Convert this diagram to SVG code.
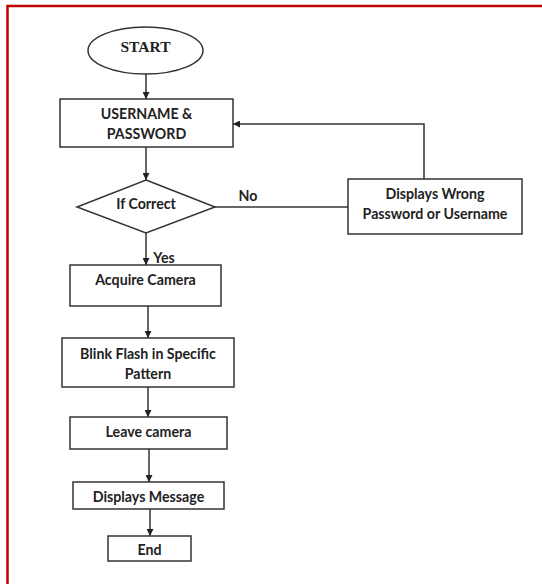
<svg xmlns="http://www.w3.org/2000/svg" width="542" height="584" viewBox="0 0 542 584">
<defs>
<marker id="ah" viewBox="0 0 10 10" refX="10" refY="5" markerWidth="7" markerHeight="7" markerUnits="userSpaceOnUse" orient="auto">
<path d="M0,0 L10,5 L0,10 z" fill="#222"/>
</marker>
<style>
.box{fill:#fff;stroke:#333;stroke-width:1.5}
.t{font-family:Lato,"Liberation Sans",sans-serif;font-weight:bold;font-size:14.2px;fill:#222;text-anchor:middle;dominant-baseline:central}
.c{fill:none;stroke:#333;stroke-width:1.5;marker-end:url(#ah)}
.l{fill:none;stroke:#333;stroke-width:1.5}
</style>
</defs>
<rect width="542" height="584" fill="#fff"/>
<rect x="7.5" y="6" width="700" height="700" fill="none" stroke="#c00000" stroke-width="2.5"/>
<g id="connectors">
<path class="c" d="M146,74 V99"/>
<path class="c" d="M146,147 V180"/>
<path class="l" d="M215,207 H348"/>
<path class="c" d="M424,179 V124 H233"/>
<path class="c" d="M146,233 V265"/>
<path class="c" d="M148,306 V338"/>
<path class="c" d="M148,387 V417"/>
<path class="c" d="M149,449 V482"/>
<path class="c" d="M150,509 V536"/>
<text class="t" x="248" y="195">No</text>
<text class="t" x="164" y="257">Yes</text>
</g>
<g id="start">
<ellipse class="box" cx="145.5" cy="50.5" rx="57.5" ry="23.5"/>
<text x="145.5" y="46" font-family="'Liberation Serif',serif" font-weight="bold" font-size="15.5" fill="#222" text-anchor="middle" dominant-baseline="central">START</text>
</g>
<g id="login">
<rect class="box" x="60" y="99" width="173" height="48"/>
<text class="t" x="146.5" y="113">USERNAME &amp;</text>
<text class="t" x="146.5" y="133">PASSWORD</text>
</g>
<g id="check">
<polygon class="box" points="146,180 215,207 146,233 77,207"/>
<text class="t" x="146" y="203">If Correct</text>
</g>
<g id="wrong">
<rect class="box" x="348" y="179" width="174" height="55"/>
<text class="t" x="435" y="193">Displays Wrong</text>
<text class="t" x="435" y="213">Password or Username</text>
</g>
<g id="acquire">
<rect class="box" x="70" y="265" width="151" height="41"/>
<text class="t" x="145.5" y="279">Acquire Camera</text>
</g>
<g id="blink">
<rect class="box" x="62" y="338" width="172" height="49"/>
<text class="t" x="148" y="353">Blink Flash in Specific</text>
<text class="t" x="148" y="373">Pattern</text>
</g>
<g id="leave">
<rect class="box" x="70" y="417" width="157" height="32"/>
<text class="t" x="148.5" y="431">Leave camera</text>
</g>
<g id="message">
<rect class="box" x="73" y="482" width="151" height="27"/>
<text class="t" x="148.5" y="496">Displays Message</text>
</g>
<g id="end">
<rect class="box" x="108" y="536" width="83" height="25"/>
<text class="t" x="149.5" y="549">End</text>
</g>
</svg>
